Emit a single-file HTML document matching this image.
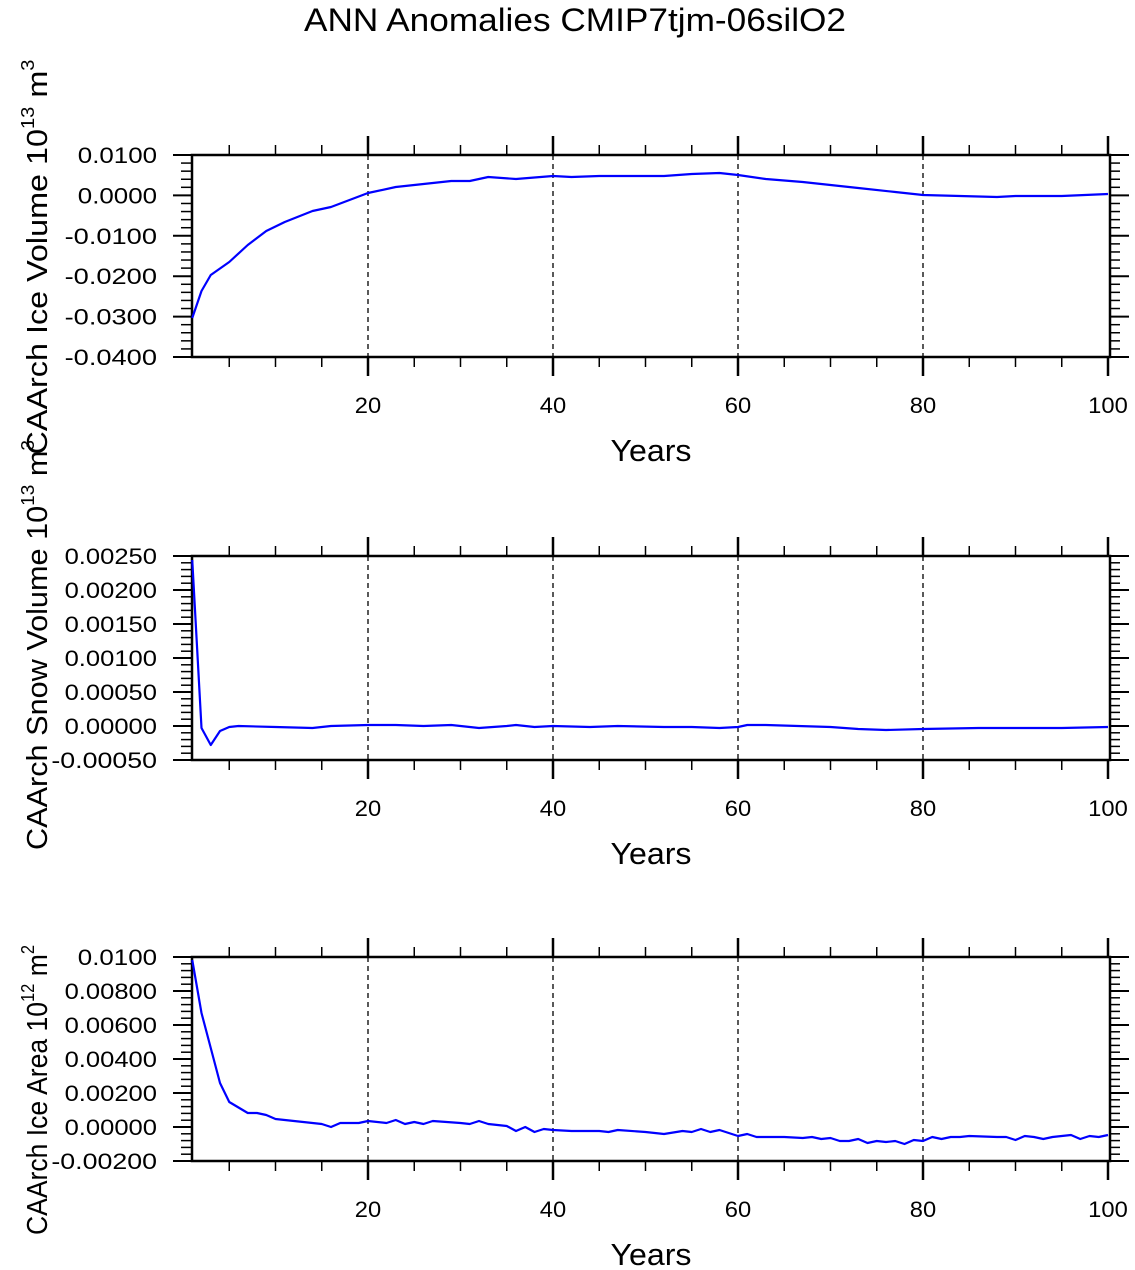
<!DOCTYPE html>
<html><head><meta charset="utf-8"><style>
html,body{margin:0;padding:0;background:#fff}
svg{display:block;font-family:"Liberation Sans",sans-serif}
</style></head><body>
<svg id="s" width="1135" height="1270" viewBox="0 0 1135 1270" xmlns="http://www.w3.org/2000/svg">
<text x="575" y="31" font-size="32" text-anchor="middle" textLength="542" lengthAdjust="spacingAndGlyphs">ANN Anomalies CMIP7tjm-06silO2</text>
<text transform="translate(47,257) rotate(-90)" font-size="29" text-anchor="middle" textLength="395" lengthAdjust="spacingAndGlyphs">CAArch Ice Volume 10<tspan font-size="18" dy="-13">13</tspan><tspan dy="13"> m</tspan><tspan font-size="18" dy="-13">3</tspan></text>
<text transform="translate(47,645) rotate(-90)" font-size="29" text-anchor="middle" textLength="410" lengthAdjust="spacingAndGlyphs">CAArch Snow Volume 10<tspan font-size="18" dy="-13">13</tspan><tspan dy="13"> m</tspan><tspan font-size="18" dy="-13">3</tspan></text>
<text transform="translate(47,1090) rotate(-90)" font-size="29" text-anchor="middle" textLength="290" lengthAdjust="spacingAndGlyphs">CAArch Ice Area 10<tspan font-size="18" dy="-13">12</tspan><tspan dy="13"> m</tspan><tspan font-size="18" dy="-13">2</tspan></text>
<g id="g"></g>
</svg>
<script>
var g=document.getElementById('g'),ns='http://www.w3.org/2000/svg';
function el(t,a,txt){var e=document.createElementNS(ns,t);for(var k in a)e.setAttribute(k,a[k]);if(txt!=null)e.textContent=txt;g.appendChild(e);return e;}
function xp(yr){return 192.25+(yr-1)*9.25;}
var L=192,R=1110;
function panel(top,bot,labels,nminor,pts){
  var n=labels.length-1,h=(bot-top)/n;
  for(var i=0;i<=n;i++){var y=top+i*h;
    el('line',{x1:173,y1:y,x2:L,y2:y,stroke:'#000','stroke-width':2});
    el('line',{x1:R,y1:y,x2:1129,y2:y,stroke:'#000','stroke-width':2});
    var t=labels[i];
    el('text',{x:157,y:y+8,'font-size':22,'text-anchor':'end',textLength:(t.length*13.2).toFixed(1),lengthAdjust:'spacingAndGlyphs'},t);
    if(i<n)for(var j=1;j<=nminor;j++){var yy=y+j*h/(nminor+1);
      el('line',{x1:181,y1:yy,x2:L,y2:yy,stroke:'#000','stroke-width':1.5});
      el('line',{x1:R,y1:yy,x2:1120,y2:yy,stroke:'#000','stroke-width':1.5});}
  }
  for(var yr=5;yr<=100;yr+=5){var x=xp(yr);var maj=yr%20==0;
    el('line',{x1:x,y1:top,x2:x,y2:top-(maj?19:10),stroke:'#000','stroke-width':maj?2.5:1.5});
    el('line',{x1:x,y1:bot,x2:x,y2:bot+(maj?19:10),stroke:'#000','stroke-width':maj?2.5:1.5});
    if(maj){var s=String(yr);el('text',{x:x,y:bot+56,'font-size':22,'text-anchor':'middle',textLength:s.length*13.2,lengthAdjust:'spacingAndGlyphs'},s);
      if(yr<100)el('line',{x1:x,y1:top,x2:x,y2:bot,stroke:'#000','stroke-width':1.3,'stroke-dasharray':'5,4'});}
  }
  el('rect',{x:L,y:top,width:R-L,height:bot-top,fill:'none',stroke:'#000','stroke-width':2.5});
  el('text',{x:651,y:bot+104,'font-size':31,'text-anchor':'middle',textLength:81,lengthAdjust:'spacingAndGlyphs'},'Years');
  var s='';for(var i=0;i<pts.length;i+=2)s+=xp(pts[i])+','+pts[i+1]+' ';
  el('polyline',{points:s,fill:'none',stroke:'#0000ff','stroke-width':2.2,'stroke-linejoin':'round'});
}
panel(155,357,['0.0100','0.0000','-0.0100','-0.0200','-0.0300','-0.0400'],4,
[1,318,2,291,3,275,5,262,7,245,9,231,11,222,14,211,16,207,18,200,20,193,23,187,26,184,29,181,31,181,33,177,36,179,40,176,42,177,45,176,52,176,55,174,58,173,60,175,63,179,67,182,70,185,73,188,77,192,80,195,84,196,88,197,90,196,95,196,100,194]);
panel(556,760,['0.00250','0.00200','0.00150','0.00100','0.00050','0.00000','-0.00050'],4,
[1,560,2,728,3,745,4,731,5,727,6,726,10,727,14,728,16,726,20,725,23,725,26,726,29,725,32,728,35,726,36,725,38,727,40,726,44,727,47,726,52,727,55,727,58,728,60,727,61,725,63,725,70,727,73,729,76,730,80,729,86,728,90,728,95,728,100,727]);
panel(957,1161,['0.0100','0.00800','0.00600','0.00400','0.00200','0.00000','-0.00200'],4,
[1,960,2,1013,3,1048,4,1083,5,1102,7,1113,8,1113,9,1115,10,1119,15,1124,16,1127,17,1123,19,1123,20,1121,22,1123,23,1120,24,1124,25,1122,26,1124,27,1121,30,1123,31,1124,32,1121,33,1124,35,1126,36,1131,37,1127,38,1132,39,1129,40,1130,42,1131,45,1131,46,1132,47,1130,50,1132,52,1134,54,1131,55,1132,56,1129,57,1132,58,1130,60,1136,61,1134,62,1137,65,1137,67,1138,68,1137,69,1139,70,1138,71,1141,72,1141,73,1139,74,1143,75,1141,76,1142,77,1141,78,1144,79,1140,80,1141,81,1137,82,1139,83,1137,84,1137,85,1136,88,1137,89,1137,90,1140,91,1136,92,1137,93,1139,94,1137,96,1135,97,1139,98,1136,99,1137,100,1135]);
</script>
</body></html>
